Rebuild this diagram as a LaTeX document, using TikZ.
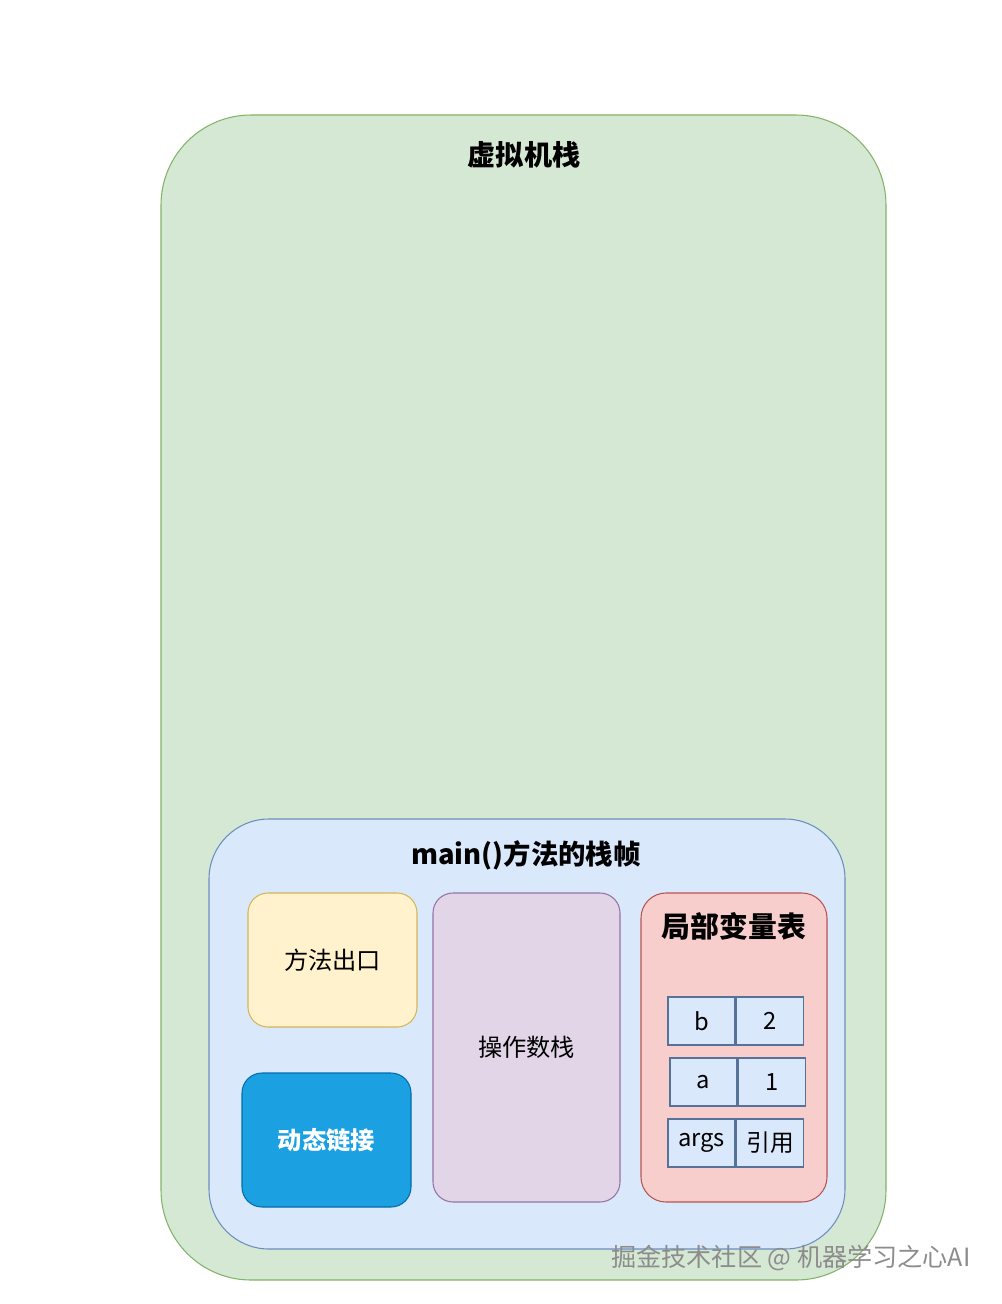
\documentclass[tikz,border=0pt]{standalone}
\usepackage{fontspec}
\setmainfont{Noto Sans CJK SC}
\usetikzlibrary{positioning}

\definecolor{vmfill}{HTML}{D5E8D4}
\definecolor{vmline}{HTML}{82B366}
\definecolor{frfill}{HTML}{DAE8FC}
\definecolor{frline}{HTML}{6C8EBF}
\definecolor{exfill}{HTML}{FFF2CC}
\definecolor{exline}{HTML}{D6B656}
\definecolor{dlfill}{HTML}{1BA1E2}
\definecolor{dlline}{HTML}{006EAF}
\definecolor{opfill}{HTML}{E1D5E7}
\definecolor{opline}{HTML}{9673A6}
\definecolor{lvfill}{HTML}{F8CECC}
\definecolor{lvline}{HTML}{B85450}

\begin{document}
\begin{tikzpicture}
  \tikzset{
    every node/.style={line width=0.6pt},
    part/.style={draw,rounded corners=0.4cm,inner sep=0pt,
      minimum width=3.38cm,minimum height=2.68cm,font=\fontsize{13.8}{15}\selectfont},
    cell/.style={draw=frline!80!black,fill=frfill,line width=0.9pt,inner sep=0pt,
      minimum width=1.34cm,minimum height=0.96cm,font=\fontsize{13.5}{15}\selectfont},
    heading/.style={font=\fontsize{15.6}{18}\selectfont\bfseries}
  }
  \useasboundingbox (0,0) rectangle (20.04,-26.08);

  % outer stack and frame
  \node[draw=vmline,fill=vmfill,rounded corners=1.8cm,minimum width=14.5cm,minimum height=23.3cm] (vmstack) at (10.47,-13.95) {};
  \node[heading,font=\fontsize{16}{18}\selectfont\bfseries] (vmtitle) at (10.48,-3.1) {虚拟机栈};
  \node[draw=frline,fill=frfill,rounded corners=1.2cm,minimum width=12.72cm,minimum height=8.6cm] (frame) at (10.54,-20.68) {};
  \node[heading] (frametitle) at (10.52,-17.1) {main()方法的栈帧};

  % parts of the frame
  \node[part,draw=exline,fill=exfill] (exit) at (6.65,-19.2) {方法出口};
  \node[part,draw=dlline,fill=dlfill,text=white,font=\fontsize{13.8}{15}\selectfont\bfseries] (dynlink) at (6.53,-22.8) {动态链接};
  \node[part,draw=opline,fill=opfill,minimum width=3.74cm,minimum height=6.18cm] (opstack) at (10.53,-20.95) {操作数栈};
  \node[part,draw=lvline,fill=lvfill,rounded corners=0.5cm,minimum width=3.72cm,minimum height=6.18cm] (locals) at (14.68,-20.95) {};
  \node[font=\fontsize{16.4}{18}\selectfont\bfseries] (localstitle) at (14.68,-18.52) {局部变量表};

  % local variable slots
  \node[cell] (bname) at (14.03,-20.42) {b};
  \node[cell,right=0pt of bname] (bval) {2};
  \node[cell] (aname) at (14.07,-21.64) {a};
  \node[cell,right=0pt of aname] (aval) {1};
  \node[cell] (argsname) at (14.03,-22.86) {args};
  \node[cell,right=0pt of argsname] (argsval) {引用};

  \node[text=black!45,font=\fontsize{14.3}{16}\selectfont] (mark) at (15.82,-25.16) {掘金技术社区 @ 机器学习之心AI};
\end{tikzpicture}
\end{document}
